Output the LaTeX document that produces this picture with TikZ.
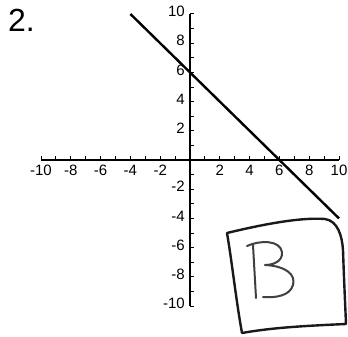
\documentclass[tikz,border=0pt]{standalone}
\usepackage{fontspec}
\setmainfont{Liberation Sans}
\begin{document}
\begin{tikzpicture}[x=1pt,y=1pt,
  axisline/.style={line width=1.2pt,black},
  tickmark/.style={line width=1pt,black},
  graphline/.style={line width=2.4pt,black},
  handline/.style={line width=2.4pt,black!90,line cap=round,line join=round},
  penline/.style={line width=2pt,black!75,line cap=round,line join=round},
  ticklabel/.style={font=\fontsize{15}{15}\selectfont,inner sep=0pt}]
\useasboundingbox (0,0) rectangle (348,-337);
\fill[white] (0,0) rectangle (348,-337);
\node[anchor=base west,inner sep=0pt,font=\fontsize{32}{32}\selectfont] (num) at (8,-32) {2.};
\begin{scope}[shift={(190,-160)},x=14.9pt,y=14.6pt]
  \coordinate (xl) at (-10,0);
  \coordinate (xr) at (10,0);
  \coordinate (yt) at (0,10);
  \coordinate (yb) at (0,-10);
  \draw[axisline] (xl) -- (xr);
  \draw[axisline] (yt) -- (yb);
  \foreach \i in {-10,...,10} {
    \ifnum\i=0\else
      \draw[tickmark] (\i,0) -- ++(0,4pt);
      \draw[tickmark] (0,\i) -- ++(4pt,0);
    \fi
  }
  \foreach \i in {-10,-8,-6,-4,-2,2,4,6,8,10} {
    \node[ticklabel,anchor=mid] (xlab\i) at (\i,-0.9) {\i};
    \node[ticklabel,anchor=mid east] (ylab\i) at ([xshift=-5pt]0,\i) {\i};
  }
  \coordinate (la) at (-4,10);
  \coordinate (lb) at (10,-4);
  \draw[graphline] (la) -- (lb);
\end{scope}
% hand-drawn box
\coordinate (b1) at (227,-233);
\coordinate (b2) at (325,-219);
\coordinate (b3) at (343,-250);
\coordinate (b4) at (346,-324);
\coordinate (b5) at (242,-333);
\draw[handline] (b1) .. controls (260,-225) and (300,-217) .. (b2)
  .. controls (338,-221) and (342,-236) .. (b3)
  .. controls (344,-280) and (345,-300) .. (b4)
  .. controls (300,-326) and (270,-328) .. (b5)
  .. controls (236,-300) and (232,-262) .. (b1);
% letter B
\coordinate (s1) at (253,-245);
\coordinate (s2) at (256,-298);
\draw[penline] (s1) -- (s2);
\coordinate (c1) at (247,-246);
\coordinate (c2) at (282,-252);
\coordinate (c3) at (265,-265);
\coordinate (c4) at (293,-285);
\coordinate (c5) at (263,-297);
\draw[penline] (c1) .. controls (260,-240) and (280,-240) .. (c2)
  .. controls (283,-262) and (272,-265) .. (c3)
  .. controls (285,-266) and (296,-274) .. (c4)
  .. controls (290,-296) and (275,-298) .. (c5);
\end{tikzpicture}
\end{document}
